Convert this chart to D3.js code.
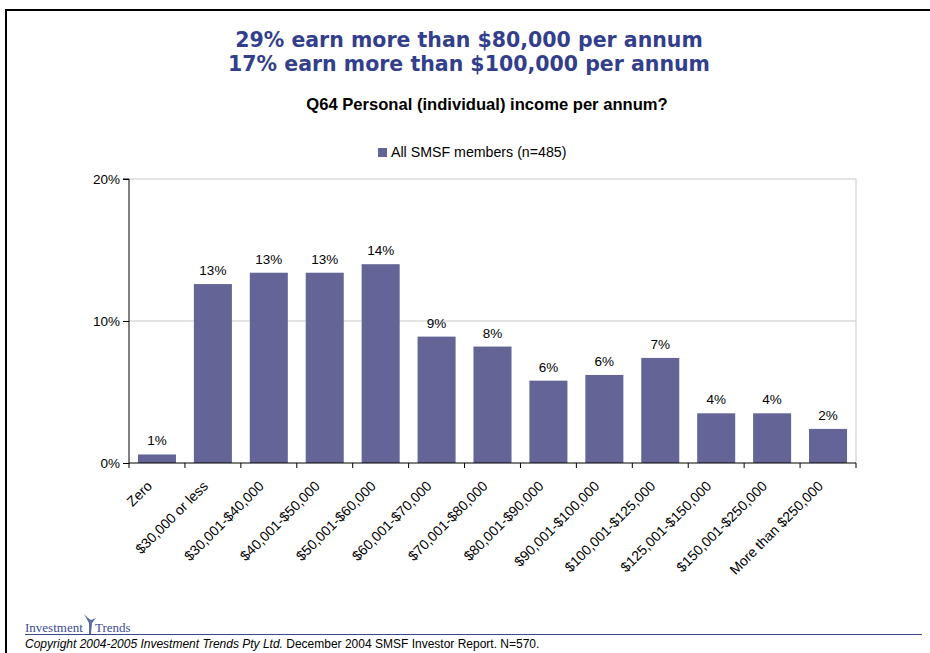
<!DOCTYPE html>
<html><head><meta charset="utf-8">
<script src="https://cdn.jsdelivr.net/npm/d3@7"></script>
<style>
body{margin:0;background:#fff;}
svg{display:block;}
</style></head>
<body>
<svg id="chart" width="930" height="653"></svg>
<script>
const categories = ["Zero","$30,000 or less","$30,001-$40,000","$40,001-$50,000","$50,001-$60,000","$60,001-$70,000","$70,001-$80,000","$80,001-$90,000","$90,001-$100,000","$100,001-$125,000","$125,001-$150,000","$150,001-$250,000","More than $250,000"];
const values = [0.6,12.6,13.4,13.4,14.0,8.9,8.2,5.8,6.2,7.4,3.5,3.5,2.4];
const yTicks = [0,10,20];
const seriesName = "All SMSF members (n=485)";
const titleLines = ["29% earn more than $80,000 per annum","17% earn more than $100,000 per annum"];
const subtitle = "Q64 Personal (individual) income per annum?";

const svg = d3.select("#chart");
const L = 129, R = 856, T = 179, B = 463;
const barColor = "#646496";
const sans = "Liberation Sans, Arial, sans-serif";

// frame
svg.append("line").attr("x1",5).attr("x2",930).attr("y1",10).attr("y2",10).attr("stroke","#000").attr("stroke-width",2);
svg.append("line").attr("x1",6).attr("x2",6).attr("y1",9).attr("y2",653).attr("stroke","#000").attr("stroke-width",2);

// titles
svg.selectAll("text.title").data(titleLines).enter().append("text")
  .attr("x",469).attr("y",(d,i)=>47+i*24).attr("text-anchor","middle")
  .attr("font-family","DejaVu Sans, Verdana, sans-serif").attr("font-weight","bold")
  .attr("font-size",20.5).attr("fill","#333f8c").text(d=>d);
svg.append("text").attr("x",487).attr("y",110).attr("text-anchor","middle")
  .attr("font-family",sans).attr("font-weight","bold")
  .attr("font-size",16.6).attr("fill","#000").text(subtitle);

// legend
svg.append("rect").attr("x",378).attr("y",148).attr("width",9).attr("height",9).attr("fill",barColor);
svg.append("text").attr("x",391).attr("y",157).attr("font-family",sans)
  .attr("font-size",14.2).attr("fill","#000").text(seriesName);

const x = d3.scaleBand().domain(categories).range([L,R]).paddingInner(0.32).paddingOuter(0.16);
const y = d3.scaleLinear().domain([0,20]).range([B,T]);

// grid
svg.append("g").selectAll("line").data(yTicks.filter(d=>d>0)).enter().append("line")
  .attr("x1",L).attr("x2",R).attr("y1",d=>y(d)).attr("y2",d=>y(d)).attr("stroke","#c8c8c8").attr("stroke-width",1);
svg.append("line").attr("x1",R).attr("x2",R).attr("y1",T).attr("y2",B).attr("stroke","#c8c8c8");

// bars
svg.append("g").selectAll("rect").data(values).enter().append("rect")
  .attr("x",(d,i)=>x(categories[i])).attr("width",x.bandwidth())
  .attr("y",d=>y(d)).attr("height",d=>B-y(d)).attr("fill",barColor);

// labels
svg.append("g").selectAll("text").data(values).enter().append("text")
  .attr("x",(d,i)=>x(categories[i])+x.bandwidth()/2).attr("y",d=>y(d)-9)
  .attr("text-anchor","middle").attr("font-family",sans)
  .attr("font-size",13.5).attr("fill","#000").text(d=>Math.round(d)+"%");

// y axis
const yAxis = d3.axisLeft(y).tickValues(yTicks).tickSize(6).tickFormat(d=>d+"%");
const gy = svg.append("g").attr("transform",`translate(${L},0)`).call(yAxis);
gy.select(".domain").attr("stroke","#000").attr("d",`M-6,${T}H0V${B}`);
gy.selectAll("text").attr("font-family",sans).attr("font-size",13.5).attr("fill","#000").attr("x",-9);

// x axis
const bounds = d3.range(categories.length+1).map(i=>L + i*(R-L)/categories.length);
svg.append("line").attr("x1",L).attr("x2",R).attr("y1",B).attr("y2",B).attr("stroke","#000");
svg.append("g").selectAll("line").data(bounds).enter().append("line")
  .attr("x1",d=>d).attr("x2",d=>d).attr("y1",B).attr("y2",B+5).attr("stroke","#000");
svg.append("g").selectAll("text").data(categories).enter().append("text")
  .attr("transform",d=>`translate(${x(d)+x.bandwidth()/2-4},${B+24}) rotate(-45)`)
  .attr("text-anchor","end").attr("font-family",sans)
  .attr("font-size",14).attr("fill","#000").text(d=>d);

// footer
const fg = svg.append("g");
fg.append("text").attr("x",25).attr("y",632).attr("font-family","Liberation Serif, Times New Roman, serif")
  .attr("font-size",13).attr("fill","#3b4a9a").text("Investment");
fg.append("text").attr("x",95).attr("y",632).attr("font-family","Liberation Serif, Times New Roman, serif")
  .attr("font-size",13).attr("fill","#3b4a9a").text("Trends");
fg.append("line").attr("x1",25).attr("x2",922).attr("y1",634.5).attr("y2",634.5).attr("stroke","#3b4a8c").attr("stroke-width",1);
fg.append("path").attr("d","M84,614 L88,618 L91,620 L96,618 L92,623 L91,634 L89,634 L89,623 Z").attr("fill","#5a6aa8");
fg.append("text").attr("x",25).attr("y",648).attr("font-family",sans)
  .attr("font-size",12).attr("fill","#000")
  .call(t=>{t.append("tspan").attr("font-style","italic").text("Copyright 2004-2005 Investment Trends Pty Ltd.");
            t.append("tspan").text(" December 2004 SMSF Investor Report. N=570.");});
</script>
</body></html>
